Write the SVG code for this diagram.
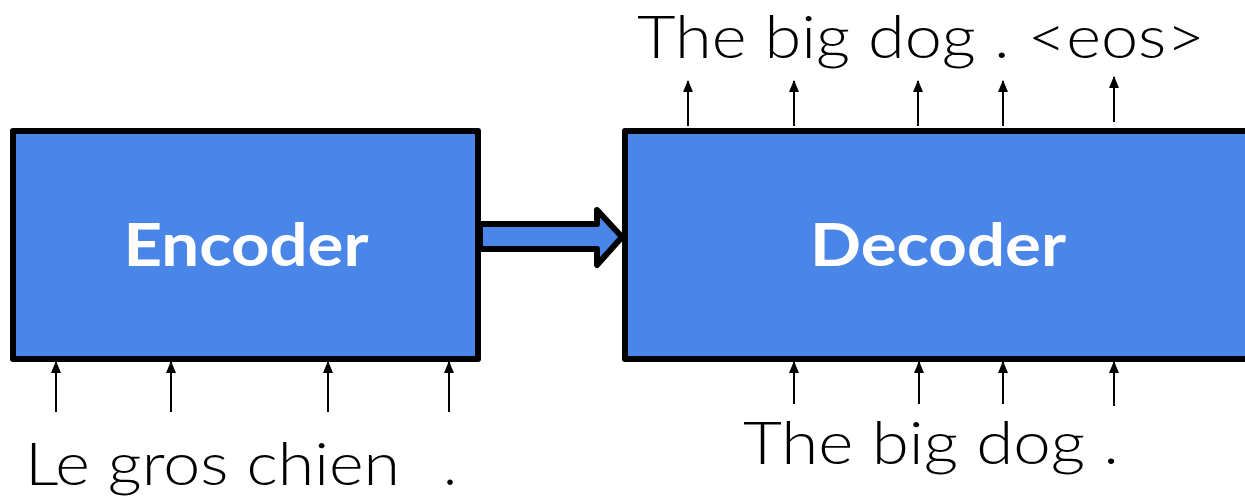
<svg xmlns="http://www.w3.org/2000/svg" width="1245" height="497" viewBox="0 0 1245 497">
  <defs>
    <style>
      .box { fill: #4a86e8; stroke: #000; stroke-width: 6; stroke-linejoin: round; }
      .title { font-family: "Lato", "Open Sans", "Liberation Sans", sans-serif; font-weight: 700; font-size: 60px; fill: #fff; text-anchor: middle; }
      .word { font-family: "Lato", "Open Sans", "Liberation Sans", sans-serif; font-weight: 300; font-size: 60px; fill: #000; }
      .tok { stroke: #000; stroke-width: 2; fill: none; marker-end: url(#head); }
    </style>
    <marker id="head" viewBox="0 0 12 10" refX="11" refY="5" markerWidth="12" markerHeight="10" markerUnits="userSpaceOnUse" orient="auto">
      <path d="M0,0 L12,5 L0,10 Z" fill="#000"/>
    </marker>
  </defs>
  <rect width="1245" height="497" fill="#fff"/>

  <g id="encoder">
    <rect class="box" x="13" y="131" width="465" height="228"/>
    <text class="title" x="246" y="266" textLength="245" lengthAdjust="spacingAndGlyphs">Encoder</text>
  </g>

  <g id="decoder">
    <rect class="box" x="625" y="131" width="640" height="228"/>
    <text class="title" x="938" y="266" textLength="256" lengthAdjust="spacingAndGlyphs">Decoder</text>
  </g>

  <g id="source-text">
    <text class="word" y="485"><tspan x="25" textLength="375" lengthAdjust="spacingAndGlyphs">Le gros chien</tspan><tspan x="443">.</tspan></text>
  </g>

  <g id="target-input">
    <text class="word" x="743" y="464" textLength="376" lengthAdjust="spacingAndGlyphs">The big dog .</text>
  </g>

  <g id="target-output">
    <text class="word" x="637" y="58" textLength="568" lengthAdjust="spacingAndGlyphs">The big dog . &lt;eos&gt;</text>
  </g>

  <g id="connectors">
    <!-- context handed from encoder to decoder -->
    <path class="box" d="M480,224 L597,224 L597,210 L622,237 L597,265 L597,249 L480,249 Z"/>
    <!-- encoder inputs -->
    <line class="tok" x1="56" y1="412" x2="56" y2="362"/>
    <line class="tok" x1="171" y1="412" x2="171" y2="362"/>
    <line class="tok" x1="328" y1="412" x2="328" y2="362"/>
    <line class="tok" x1="449" y1="412" x2="449" y2="362"/>
    <!-- decoder inputs -->
    <line class="tok" x1="794" y1="404" x2="794" y2="362"/>
    <line class="tok" x1="919" y1="404" x2="919" y2="362"/>
    <line class="tok" x1="1003" y1="404" x2="1003" y2="362"/>
    <line class="tok" x1="1114" y1="406" x2="1114" y2="362"/>
    <!-- decoder outputs -->
    <line class="tok" x1="688" y1="126" x2="688" y2="81"/>
    <line class="tok" x1="794" y1="126" x2="794" y2="81"/>
    <line class="tok" x1="918" y1="126" x2="918" y2="81"/>
    <line class="tok" x1="1003" y1="126" x2="1003" y2="81"/>
    <line class="tok" x1="1114" y1="122" x2="1114" y2="77"/>
  </g>
</svg>
